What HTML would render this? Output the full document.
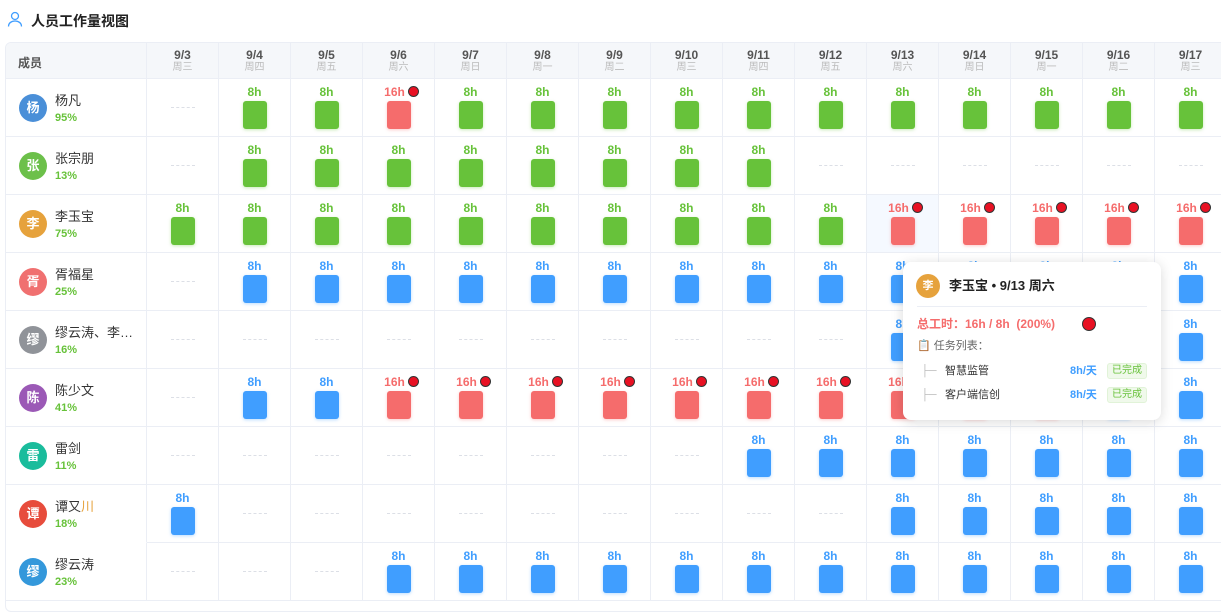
<!DOCTYPE html><html><head><meta charset="utf-8"><style>
*{box-sizing:border-box;margin:0;padding:0}
body{width:1221px;height:603px;overflow:hidden;background:#fff;font-family:"Liberation Sans","Noto Sans CJK SC",sans-serif;position:relative}
.t{position:absolute;left:31px;top:11px;font-size:14px;font-weight:bold;color:#222}
.tbl{position:absolute;left:5px;top:42px;width:1230px;height:570px;border:1px solid #ebeef5;border-radius:6px;overflow:hidden}
.hd{position:absolute;left:0;top:0;height:36px;width:1300px;background:#f5f7fa;display:flex;border-bottom:1px solid #ebeef5}
.row{position:absolute;left:0;width:1300px;height:58px;border-bottom:1px solid #ebeef5;display:flex}
.m{width:141px;flex:none;border-right:1px solid #ebeef5;position:relative}
.c{width:72px;flex:none;border-right:1px solid #ebeef5;position:relative}
.hd .m{font-size:12px;font-weight:bold;color:#555;padding:11px 0 0 12px}
.hd .c{text-align:center;padding-top:5px}
.hd .c p{font-size:12px;font-weight:bold;color:#555;line-height:14px}
.hd .c em{display:block;font-style:normal;font-size:10px;color:#bbb;line-height:12px}
.c b{position:absolute;top:6px;left:0;right:0;text-align:center;font-size:12px;line-height:14px}
.c s{position:absolute;left:24px;top:22px;width:24px;height:28px;border-radius:3px}
.c i{position:absolute;left:24px;top:28px;width:24px;border-top:1px dashed #dcdfe6}
.g b{color:#67c23a}.g s{background:#67c23a;box-shadow:0 1px 3px rgba(103,194,58,.35)}
.r b{color:#f56c6c;left:6px;text-align:center}.r s{background:#f56c6c;box-shadow:0 1px 3px rgba(245,108,108,.35)}
.bl b{color:#409eff}.bl s{background:#409eff;box-shadow:0 1px 3px rgba(64,158,255,.35)}
u{display:inline-block;width:11px;height:11px;border-radius:50%;background:#e81123;border:1px solid #333;margin-left:3px;vertical-align:-1px}
.av{position:absolute;left:13px;top:15px;width:28px;height:28px;border-radius:50%;color:#fff;font-size:13px;font-weight:bold;text-align:center;line-height:28px}
.nm{position:absolute;left:49px;top:14px;font-size:13px;color:#333;line-height:16px}
.pc{position:absolute;left:49px;top:32px;font-size:11px;font-weight:bold;color:#67c23a;line-height:14px}
.tip{position:absolute;left:903px;top:262px;width:258px;height:158px;background:#fff;border-radius:8px;box-shadow:0 2px 12px rgba(0,0,0,.15)}
</style></head><body>
<svg style="position:absolute;left:7px;top:11px" width="16" height="16" viewBox="0 0 16 16"><circle cx="8" cy="5" r="3.5" fill="none" stroke="#409eff" stroke-width="1.3"/><path d="M1.5 15.5c0-3.5 3-5.5 6.5-5.5s6.5 2 6.5 5.5" fill="none" stroke="#409eff" stroke-width="1.3"/></svg>
<div class="t">人员工作量视图</div>
<div class="tbl">
<div class="hd"><div class="m">成员</div>
<div class="c"><p>9/3</p><em>周三</em></div><div class="c"><p>9/4</p><em>周四</em></div><div class="c"><p>9/5</p><em>周五</em></div><div class="c"><p>9/6</p><em>周六</em></div><div class="c"><p>9/7</p><em>周日</em></div><div class="c"><p>9/8</p><em>周一</em></div><div class="c"><p>9/9</p><em>周二</em></div><div class="c"><p>9/10</p><em>周三</em></div><div class="c"><p>9/11</p><em>周四</em></div><div class="c"><p>9/12</p><em>周五</em></div><div class="c"><p>9/13</p><em>周六</em></div><div class="c"><p>9/14</p><em>周日</em></div><div class="c"><p>9/15</p><em>周一</em></div><div class="c"><p>9/16</p><em>周二</em></div><div class="c"><p>9/17</p><em>周三</em></div></div>

<div class="row" style="top:36px"><div class="m"><div class="av" style="background:#4a8fd8">杨</div><div class="nm">杨凡</div><div class="pc">95%</div></div>
<div class="c"><i></i></div><div class="c g"><b>8h</b><s></s></div><div class="c g"><b>8h</b><s></s></div><div class="c r"><b>16h<u></u></b><s></s></div><div class="c g"><b>8h</b><s></s></div><div class="c g"><b>8h</b><s></s></div><div class="c g"><b>8h</b><s></s></div><div class="c g"><b>8h</b><s></s></div><div class="c g"><b>8h</b><s></s></div><div class="c g"><b>8h</b><s></s></div><div class="c g"><b>8h</b><s></s></div><div class="c g"><b>8h</b><s></s></div><div class="c g"><b>8h</b><s></s></div><div class="c g"><b>8h</b><s></s></div><div class="c g"><b>8h</b><s></s></div></div>

<div class="row" style="top:94px"><div class="m"><div class="av" style="background:#6cc04a">张</div><div class="nm">张宗朋</div><div class="pc">13%</div></div>
<div class="c"><i></i></div><div class="c g"><b>8h</b><s></s></div><div class="c g"><b>8h</b><s></s></div><div class="c g"><b>8h</b><s></s></div><div class="c g"><b>8h</b><s></s></div><div class="c g"><b>8h</b><s></s></div><div class="c g"><b>8h</b><s></s></div><div class="c g"><b>8h</b><s></s></div><div class="c g"><b>8h</b><s></s></div><div class="c"><i></i></div><div class="c"><i></i></div><div class="c"><i></i></div><div class="c"><i></i></div><div class="c"><i></i></div><div class="c"><i></i></div></div>

<div class="row" style="top:152px"><div class="m"><div class="av" style="background:#e6a23c">李</div><div class="nm">李玉宝</div><div class="pc">75%</div></div>
<div class="c g"><b>8h</b><s></s></div><div class="c g"><b>8h</b><s></s></div><div class="c g"><b>8h</b><s></s></div><div class="c g"><b>8h</b><s></s></div><div class="c g"><b>8h</b><s></s></div><div class="c g"><b>8h</b><s></s></div><div class="c g"><b>8h</b><s></s></div><div class="c g"><b>8h</b><s></s></div><div class="c g"><b>8h</b><s></s></div><div class="c g"><b>8h</b><s></s></div><div class="c r" style="background:#f5f9ff"><b>16h<u></u></b><s></s></div><div class="c r"><b>16h<u></u></b><s></s></div><div class="c r"><b>16h<u></u></b><s></s></div><div class="c r"><b>16h<u></u></b><s></s></div><div class="c r"><b>16h<u></u></b><s></s></div></div>

<div class="row" style="top:210px"><div class="m"><div class="av" style="background:#f07070">胥</div><div class="nm">胥福星</div><div class="pc">25%</div></div>
<div class="c"><i></i></div><div class="c bl"><b>8h</b><s></s></div><div class="c bl"><b>8h</b><s></s></div><div class="c bl"><b>8h</b><s></s></div><div class="c bl"><b>8h</b><s></s></div><div class="c bl"><b>8h</b><s></s></div><div class="c bl"><b>8h</b><s></s></div><div class="c bl"><b>8h</b><s></s></div><div class="c bl"><b>8h</b><s></s></div><div class="c bl"><b>8h</b><s></s></div><div class="c bl"><b>8h</b><s></s></div><div class="c bl"><b>8h</b><s></s></div><div class="c bl"><b>8h</b><s></s></div><div class="c bl"><b>8h</b><s></s></div><div class="c bl"><b>8h</b><s></s></div></div>

<div class="row" style="top:268px"><div class="m"><div class="av" style="background:#909399">缪</div><div class="nm">缪云涛、李…</div><div class="pc">16%</div></div>
<div class="c"><i></i></div><div class="c"><i></i></div><div class="c"><i></i></div><div class="c"><i></i></div><div class="c"><i></i></div><div class="c"><i></i></div><div class="c"><i></i></div><div class="c"><i></i></div><div class="c"><i></i></div><div class="c"><i></i></div><div class="c bl"><b>8h</b><s></s></div><div class="c bl"><b>8h</b><s></s></div><div class="c bl"><b>8h</b><s></s></div><div class="c bl"><b>8h</b><s></s></div><div class="c bl"><b>8h</b><s></s></div></div>

<div class="row" style="top:326px"><div class="m"><div class="av" style="background:#9b59b6">陈</div><div class="nm">陈少文</div><div class="pc">41%</div></div>
<div class="c"><i></i></div><div class="c bl"><b>8h</b><s></s></div><div class="c bl"><b>8h</b><s></s></div><div class="c r"><b>16h<u></u></b><s></s></div><div class="c r"><b>16h<u></u></b><s></s></div><div class="c r"><b>16h<u></u></b><s></s></div><div class="c r"><b>16h<u></u></b><s></s></div><div class="c r"><b>16h<u></u></b><s></s></div><div class="c r"><b>16h<u></u></b><s></s></div><div class="c r"><b>16h<u></u></b><s></s></div><div class="c r"><b>16h<u></u></b><s></s></div><div class="c r"><b>16h<u></u></b><s></s></div><div class="c r"><b>16h<u></u></b><s></s></div><div class="c bl"><b>8h</b><s></s></div><div class="c bl"><b>8h</b><s></s></div></div>

<div class="row" style="top:384px"><div class="m"><div class="av" style="background:#1abc9c">雷</div><div class="nm">雷剑</div><div class="pc">11%</div></div>
<div class="c"><i></i></div><div class="c"><i></i></div><div class="c"><i></i></div><div class="c"><i></i></div><div class="c"><i></i></div><div class="c"><i></i></div><div class="c"><i></i></div><div class="c"><i></i></div><div class="c bl"><b>8h</b><s></s></div><div class="c bl"><b>8h</b><s></s></div><div class="c bl"><b>8h</b><s></s></div><div class="c bl"><b>8h</b><s></s></div><div class="c bl"><b>8h</b><s></s></div><div class="c bl"><b>8h</b><s></s></div><div class="c bl"><b>8h</b><s></s></div></div>

<div class="row" style="top:442px"><div class="m" style="border-bottom:1px solid #fff;margin-bottom:-1px"><div class="av" style="background:#e74c3c">谭</div><div class="nm">谭又<span style="color:#e6a23c">川</span></div><div class="pc">18%</div></div>
<div class="c bl"><b>8h</b><s></s></div><div class="c"><i></i></div><div class="c"><i></i></div><div class="c"><i></i></div><div class="c"><i></i></div><div class="c"><i></i></div><div class="c"><i></i></div><div class="c"><i></i></div><div class="c"><i></i></div><div class="c"><i></i></div><div class="c bl"><b>8h</b><s></s></div><div class="c bl"><b>8h</b><s></s></div><div class="c bl"><b>8h</b><s></s></div><div class="c bl"><b>8h</b><s></s></div><div class="c bl"><b>8h</b><s></s></div></div>

<div class="row" style="top:500px"><div class="m"><div class="av" style="background:#3498db">缪</div><div class="nm">缪云涛</div><div class="pc">23%</div></div>
<div class="c"><i></i></div><div class="c"><i></i></div><div class="c"><i></i></div><div class="c bl"><b>8h</b><s></s></div><div class="c bl"><b>8h</b><s></s></div><div class="c bl"><b>8h</b><s></s></div><div class="c bl"><b>8h</b><s></s></div><div class="c bl"><b>8h</b><s></s></div><div class="c bl"><b>8h</b><s></s></div><div class="c bl"><b>8h</b><s></s></div><div class="c bl"><b>8h</b><s></s></div><div class="c bl"><b>8h</b><s></s></div><div class="c bl"><b>8h</b><s></s></div><div class="c bl"><b>8h</b><s></s></div><div class="c bl"><b>8h</b><s></s></div></div>
</div>

<div class="tip">
<div style="position:absolute;left:13px;top:12px;width:24px;height:24px;border-radius:50%;background:#e6a23c;color:#fff;font-size:11px;font-weight:bold;text-align:center;line-height:24px">李</div>
<div style="position:absolute;left:46px;top:15px;font-size:13px;font-weight:bold;color:#222;line-height:18px">李玉宝 • 9/13 周六</div>
<div style="position:absolute;left:14px;right:14px;top:44px;border-top:1px solid #ebeef5"></div>
<div style="position:absolute;left:14px;top:54px;font-size:12px;font-weight:bold;color:#f56c6c;line-height:16px">总工时：16h / 8h &nbsp;(200%)</div>
<u style="position:absolute;left:179px;top:55px;width:14px;height:14px;margin:0"></u>
<div style="position:absolute;left:14px;top:77px;font-size:11px;color:#666;line-height:15px">📋 任务列表：</div>
<div style="position:absolute;left:18px;top:102px;font-size:11px;color:#bbb;line-height:15px">├─</div>
<div style="position:absolute;left:42px;top:102px;font-size:11px;color:#333;line-height:15px">智慧监管</div>
<div style="position:absolute;left:167px;top:102px;font-size:11px;font-weight:bold;color:#409eff;line-height:15px">8h/天</div>
<div style="position:absolute;left:204px;top:101px;width:40px;height:16px;background:#f0f9eb;border:1px solid #e1f3d8;border-radius:3px;font-size:10px;color:#67c23a;text-align:center;line-height:14px">已完成</div>
<div style="position:absolute;left:18px;top:126px;font-size:11px;color:#bbb;line-height:15px">├─</div>
<div style="position:absolute;left:42px;top:126px;font-size:11px;color:#333;line-height:15px">客户端信创</div>
<div style="position:absolute;left:167px;top:126px;font-size:11px;font-weight:bold;color:#409eff;line-height:15px">8h/天</div>
<div style="position:absolute;left:204px;top:125px;width:40px;height:16px;background:#f0f9eb;border:1px solid #e1f3d8;border-radius:3px;font-size:10px;color:#67c23a;text-align:center;line-height:14px">已完成</div>
</div>
</body></html>
